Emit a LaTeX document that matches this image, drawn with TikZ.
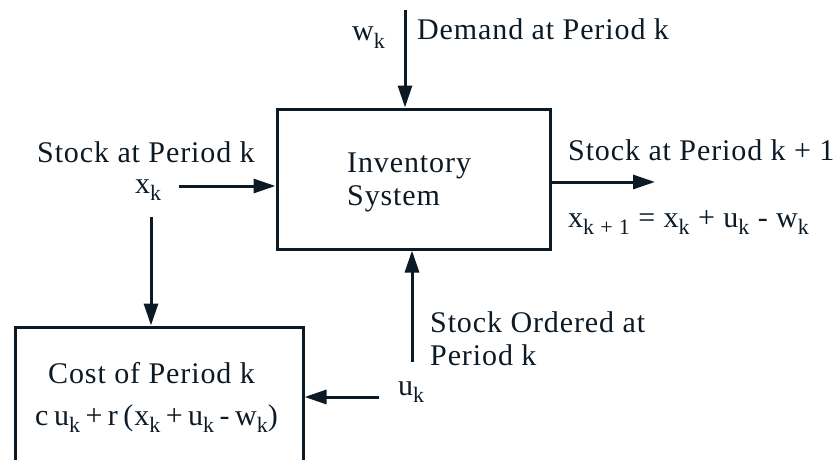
\documentclass[tikz,border=0pt]{standalone}
\usepackage{fontspec}
\setmainfont[LetterSpace=3]{Liberation Serif}
\usetikzlibrary{arrows.meta}
\definecolor{ink}{RGB}{12,26,38}
\newcommand\lk[1]{\raisebox{-0.25em}{\fontsize{22}{22}\selectfont #1}}
\begin{document}
\begin{tikzpicture}[x=1pt,y=-1pt,
  lbl/.style={inner sep=0pt,anchor=base west,text=ink,font=\fontsize{30}{33}\selectfont},
  box/.style={draw=ink,line width=3pt,inner sep=0pt},
  arr/.style={draw=ink,line width=3pt,-{Triangle[length=22pt,width=14pt]}}]
\useasboundingbox (0,0) rectangle (835,460);
\clip (0,0) rectangle (835,460);
\node[box,minimum width=273pt,minimum height=140pt] (inv) at (413.5,179) {};
\node[box,minimum width=288pt,minimum height=150pt] (cost) at (159,402) {};
\node[lbl] (invt1) at (347,172) {Inventory};
\node[lbl] (invt2) at (347,205) {System};
\node[lbl] (wk) at (352,41) {w\lk{k}};
\node[lbl] (dem) at (417,40) {Demand at Period k};
\node[lbl] (stk) at (37,162) {Stock at Period k};
\node[lbl] (xk) at (135,193) {x\lk{k}};
\node[lbl] (stk1) at (568,160) {Stock at Period k + 1};
\node[lbl] (eq) at (568,227) {x\lk{k + 1} = x\lk{k} + u\lk{k} - w\lk{k}};
\node[lbl] (ord1) at (430,332) {Stock Ordered at};
\node[lbl] (ord2) at (430,365) {Period k};
\node[lbl] (uk) at (398,395) {u\lk{k}};
\node[lbl] (costt) at (48,383) {Cost of Period k};
\node[lbl] (costf) at (35,425) {\spaceskip=5.5pt c u\lk{k} + r (x\lk{k} + u\lk{k} - w\lk{k})};
\coordinate (wtop) at (405,10);
\coordinate (xkr) at (179,186);
\coordinate (xkd) at (151,217);
\coordinate (outend) at (655,182);
\coordinate (ubot) at (412,362);
\coordinate (ukl) at (379,397);
\draw[arr] (wtop) -- (wtop |- inv.north);
\draw[arr] (xkr) -- (xkr -| inv.west);
\draw[arr] (xkd) -- (xkd |- cost.north);
\draw[arr] (outend -| inv.east) -- (outend);
\draw[arr] (ubot) -- (ubot |- inv.south);
\draw[arr] (ukl) -- (ukl -| cost.east);
\end{tikzpicture}
\end{document}
